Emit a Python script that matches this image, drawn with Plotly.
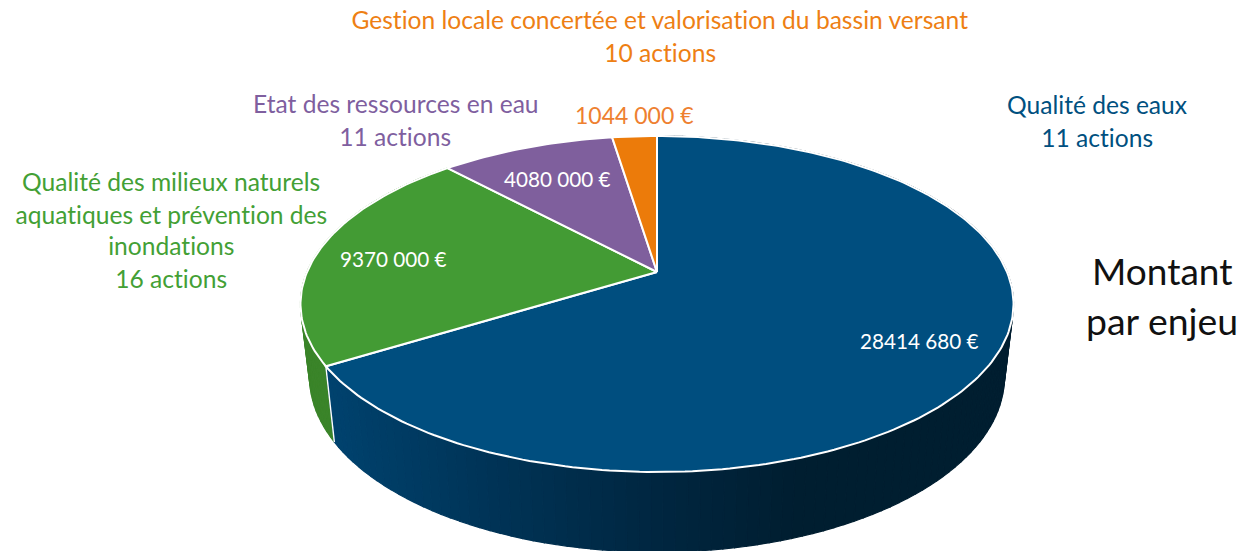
import math
import plotly.graph_objects as go

# ---- data -------------------------------------------------------------
enjeux = ["Qualité des eaux",
          "Qualité des milieux naturels aquatiques et prévention des inondations",
          "Etat des ressources en eau",
          "Gestion locale concertée et valorisation du bassin versant"]
montants = [28414680, 9370000, 4080000, 1044000]
actions = [11, 16, 11, 10]
couleurs = ["#004E7F", "#439B34", "#7F5F9D", "#EC7B0A"]

# ---- perspective of the tilted disc (apex of the slices = origin) -----
TOP = dict(a=350.0, b=161.9, k=0.1905, y0=0.0)
BOTTOM = dict(a=341.0, b=168.5, k=0.1905, y0=-72.0)
FONT = "Lato"
SIZE_CAT, SIZE_VAL, SIZE_TITLE = 24.6, 20.7, 37


def project(disc, turn):
    """turn: 0..1 clockwise from 12 o'clock -> plot coordinates"""
    u, v = math.sin(2 * math.pi * turn), math.cos(2 * math.pi * turn)
    w = 1 + disc["k"] * v
    return disc["a"] * u / w, disc["y0"] + disc["b"] * v / w


def mix(c1, c2, t):
    return "rgb(%d,%d,%d)" % tuple(round(a + (b - a) * t) for a, b in zip(c1, c2))


def side_colour(x):
    stops = [(-330, (0, 66, 110)), (-150, (0, 50, 84)), (0, (0, 38, 64)), (140, (0, 30, 48)), (360, (0, 30, 48))]
    for (x0, c0), (x1, c1) in zip(stops, stops[1:]):
        if x <= x1:
            return mix(c0, c1, max(0, (x - x0) / (x1 - x0)))
    return mix(stops[-1][1], stops[-1][1], 0)


total = sum(montants)
bounds = [0.0]
for m in montants:
    bounds.append(bounds[-1] + m / total)

fig = go.Figure()


def poly(xs, ys, fill, line=None, width=0):
    fig.add_trace(go.Scatter(x=xs, y=ys, mode="lines", fill="toself", fillcolor=fill,
                             line=dict(color=line or fill, width=width if line else 1.2),
                             hoverinfo="skip", showlegend=False))


# side wall: blue and green slices only, the others are hidden behind the top
for idx in (1, 0):
    t0, t1 = bounds[idx], bounds[idx + 1]
    n = max(6, int((t1 - t0) * 220))
    for i in range(n):
        a, b = t0 + (t1 - t0) * i / n, t0 + (t1 - t0) * (i + 1) / n
        p = [project(TOP, a), project(TOP, b), project(BOTTOM, b), project(BOTTOM, a)]
        col = "#3A8429" if idx == 1 else side_colour((p[0][0] + p[1][0]) / 2)
        poly([q[0] for q in p] + [p[0][0]], [q[1] for q in p] + [p[0][1]], col)

# white seam between the two visible walls
s0, s1 = project(TOP, bounds[1]), project(BOTTOM, bounds[1])
fig.add_trace(go.Scatter(x=[s0[0], s1[0]], y=[s0[1], s1[1]], mode="lines",
                         line=dict(color="white", width=1.4), hoverinfo="skip", showlegend=False))

# top of the pie
for idx, col in enumerate(couleurs):
    t0, t1 = bounds[idx], bounds[idx + 1]
    n = max(8, int((t1 - t0) * 360))
    pts = [project(TOP, t0 + (t1 - t0) * i / n) for i in range(n + 1)]
    xs = [0.0] + [q[0] for q in pts] + [0.0]
    ys = [0.0] + [q[1] for q in pts] + [0.0]
    poly(xs, ys, col, line="white", width=2)


def fmt(v):
    m, r = divmod(v, 1000)
    return f"{m} {r:03d} €"


OFFX, OFFY = 657, 272


def label(px, py, text, color, size=SIZE_CAT):
    fig.add_annotation(x=px - OFFX, y=OFFY - py, text=text, showarrow=False, xref="x", yref="y",
                       xanchor="center", yanchor="middle",
                       font=dict(family=FONT, size=size, color=color))


# category labels
label(660, 19.5, enjeux[3], "#EE7F14")
label(660, 52, f"{actions[3]} actions", "#EE7F14")
label(395.5, 103.5, enjeux[2], "#7F5F9F")
label(395, 136, f"{actions[2]} actions", "#7F5F9F")
label(1097, 104.5, enjeux[0], "#00507F")
label(1097, 137, f"{actions[0]} actions", "#00507F")
for py, txt in zip((181.5, 214, 245.5),
                   ("Qualité des milieux naturels", "aquatiques et prévention des", "inondations")):
    label(171, py, txt, "#43A035")
label(171, 278, f"{actions[1]} actions", "#43A035")

# value labels
label(919, 341, fmt(montants[0]), "white", SIZE_VAL)
label(393, 259, fmt(montants[1]), "white", SIZE_VAL)
label(557, 179, fmt(montants[2]), "white", SIZE_VAL)
label(634, 115, fmt(montants[3]), "#EE8030", 23)

# side title
label(1162, 270, "Montant", "#111111", SIZE_TITLE)
label(1161.5, 320, "par enjeu", "#111111", 37.4)

fig.update_layout(
    width=1243, height=551, autosize=False,
    margin=dict(l=0, r=0, t=0, b=0),
    paper_bgcolor="white", plot_bgcolor="white", showlegend=False,
    xaxis=dict(range=[-OFFX, 1243 - OFFX], visible=False, fixedrange=True),
    yaxis=dict(range=[OFFY - 551, OFFY], visible=False, fixedrange=True),
)
page_css = ("document.body.style.margin='0';document.body.style.overflow='hidden';"
            "var s=document.createElement('style');"
            "s.textContent='svg text{font-variant-ligatures:none !important}';"
            "document.head.appendChild(s);")
fig.write_html("out.html", config={"displayModeBar": False}, post_script=page_css)
